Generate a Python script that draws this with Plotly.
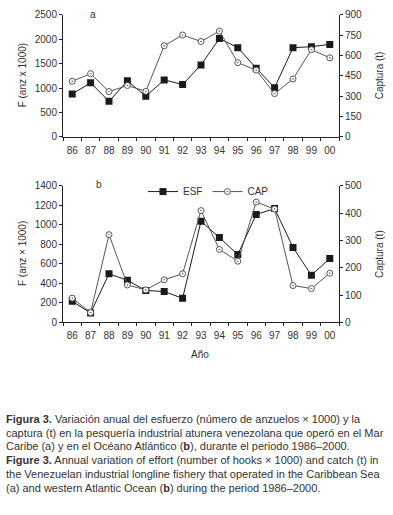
import plotly.graph_objects as go

years = ["86", "87", "88", "89", "90", "91", "92", "93", "94", "95", "96", "97", "98", "99", "00"]

# Panel a (Mar Caribe)
esf_a = [880, 1107, 727, 1147, 833, 1167, 1073, 1473, 2013, 1827, 1407, 1007, 1827, 1847, 1893]
cap_a = [410, 466, 334, 379, 336, 672, 751, 703, 780, 547, 492, 319, 427, 643, 583]

# Panel b (Océano Atlántico)
esf_b = [217, 97, 498, 431, 327, 317, 247, 1036, 869, 695, 1106, 1166, 768, 484, 655]
cap_b = [89, 36, 321, 137, 119, 156, 178, 409, 267, 224, 440, 415, 135, 124, 180]

caption_lines = [
    "<b>Figura 3.</b> Variación anual del esfuerzo (número de anzuelos × 1000) y la",
    "captura (t) en la pesquería industrial atunera venezolana que operó en el Mar",
    "Caribe (a) y en el Océano Atlántico (<b>b</b>), durante el periodo 1986–2000.",
    "<b>Figure 3.</b> Annual variation of effort (number of hooks × 1000) and catch (t) in",
    "the Venezuelan industrial longline fishery that operated in the Caribbean Sea",
    "(a) and western Atlantic Ocean (<b>b</b>) during the period 1986–2000.",
]

W, H = 393, 515
def py(p):
    return 1 - p / H
def px(p):
    return p / W

FONT = "Liberation Sans, Arial, sans-serif"
TXT = "#333333"
ESF_COL = "#1a1a1a"
CAP_COL = "#555555"

esf_marker = dict(symbol="square", size=7, color=ESF_COL)
cap_marker = dict(symbol="circle-dot", size=6, color="white", line=dict(color=CAP_COL, width=1))

fig = go.Figure()
fig.add_trace(go.Scatter(x=years, y=esf_a, xaxis="x", yaxis="y", mode="lines+markers",
                         line=dict(color=ESF_COL, width=1), marker=esf_marker, showlegend=False))
fig.add_trace(go.Scatter(x=years, y=cap_a, xaxis="x", yaxis="y2", mode="lines+markers",
                         line=dict(color=CAP_COL, width=1), marker=cap_marker, showlegend=False))
fig.add_trace(go.Scatter(x=years, y=esf_b, xaxis="x2", yaxis="y3", mode="lines+markers", name="ESF",
                         line=dict(color=ESF_COL, width=1), marker=esf_marker))
fig.add_trace(go.Scatter(x=years, y=cap_b, xaxis="x2", yaxis="y4", mode="lines+markers", name="CAP",
                         line=dict(color=CAP_COL, width=1), marker=cap_marker))

xdom = [px(63), px(339)]
axfont = dict(family=FONT, size=10, color=TXT)
xcommon = dict(type="category", domain=xdom, showline=True, linecolor="#222", linewidth=1,
               ticks="outside", ticklen=3, tickcolor="#222", tickson="boundaries", tickangle=0,
               ticklabelstandoff=4,
               showgrid=False, zeroline=False, tickfont=axfont, range=[-0.5, 14.5])
ycommon = dict(showline=True, linecolor="#222", linewidth=1, ticks="outside", ticklen=3,
               tickcolor="#222", showgrid=False, zeroline=False, tickfont=axfont)

fig.update_layout(
    width=W, height=H, autosize=False,
    margin=dict(l=0, r=0, t=0, b=0),
    paper_bgcolor="white", plot_bgcolor="white",
    font=dict(family=FONT, size=10, color=TXT),
    xaxis=dict(xcommon, anchor="y"),
    yaxis=dict(ycommon, domain=[py(134), py(9)], range=[0, 2500], dtick=500, anchor="x"),
    yaxis2=dict(ycommon, overlaying="y", side="right", range=[0, 900], dtick=150, anchor="x"),
    xaxis2=dict(xcommon, anchor="y3"),
    yaxis3=dict(ycommon, domain=[py(324), py(184)], range=[0, 1400], dtick=200, anchor="x2"),
    yaxis4=dict(ycommon, overlaying="y3", side="right", range=[0, 500], dtick=100, anchor="x2"),
    legend=dict(orientation="h", x=px(143), y=py(190), xanchor="left", yanchor="middle",
                font=dict(family=FONT, size=10, color=TXT), bgcolor="rgba(0,0,0,0)",
                itemwidth=30, tracegroupgap=0),
)

ann = []
def add(text, x, y, size=10, angle=0, xanchor="center", yanchor="middle", family=FONT):
    ann.append(dict(text=text, x=px(x), y=py(y), xref="paper", yref="paper", showarrow=False,
                    textangle=angle, xanchor=xanchor, yanchor=yanchor,
                    font=dict(family=family, size=size, color=TXT)))

add("a", 93, 9)
add("b", 99, 183)
add("F (anz x 1000)", 22, 71, size=10, angle=-90)
add("Captura (t)", 379, 71, size=10, angle=-90)
add("F (anz × 1000)", 22, 254, size=10, angle=-90)
add("Captura (t)", 379, 254, size=10, angle=-90)
add("Año", 200, 357)

for i, line in enumerate(caption_lines):
    add(line, 4, 423 + 14 * i, size=11, xanchor="left")

fig.update_layout(annotations=ann)
fig.write_html("out.html", config={"displayModeBar": False},
               post_script="document.body.style.margin='0';document.body.style.overflow='hidden';")
